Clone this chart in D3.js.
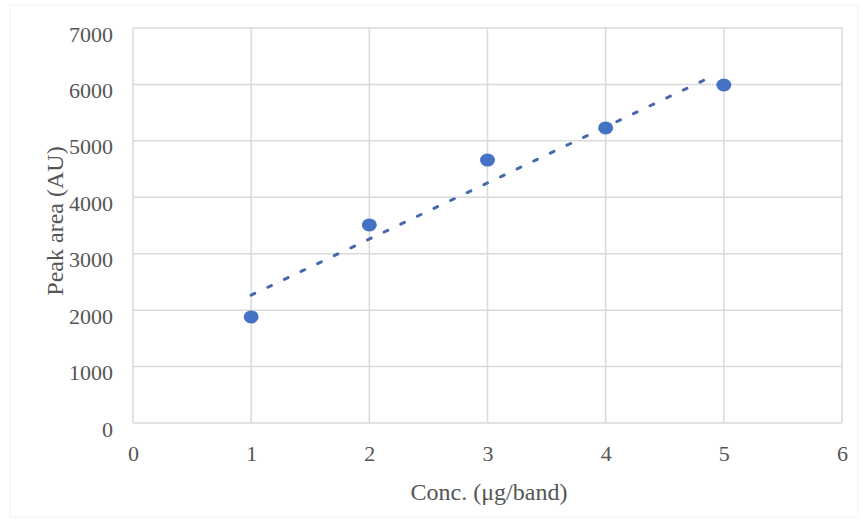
<!DOCTYPE html>
<html><head><meta charset="utf-8">
<script src="https://cdn.jsdelivr.net/npm/d3@7/dist/d3.min.js"></script>
<style>body{margin:0;background:#fff}svg{display:block}</style>
</head><body>
<svg id="c" width="863" height="522"></svg>
<script>
const concentrations = [1, 2, 3, 4, 5];
const peakAreas = [1880, 3510, 4660, 5230, 5990];
const xTicks = [0, 1, 2, 3, 4, 5, 6];
const yTicks = [0, 1000, 2000, 3000, 4000, 5000, 6000, 7000];
const xTitle = "Conc. (μg/band)";
const yTitle = "Peak area (AU)";

const svg = d3.select("#c");
const m = {l: 133, r: 842, t: 28, b: 423};
const x = d3.scaleLinear().domain([0, 6]).range([m.l, m.r]);
const y = d3.scaleLinear().domain([0, 7000]).range([m.b, m.t]);
const font = "'Liberation Serif','Times New Roman',serif";
const txt = "#555555";

svg.append("rect").attr("x", 10).attr("y", 5).attr("width", 848).attr("height", 512)
  .attr("fill", "none").attr("stroke", "#f2f2f2").attr("stroke-width", 1);

// grid
svg.append("g").selectAll("line").data(yTicks).join("line")
  .attr("x1", m.l).attr("x2", m.r).attr("y1", d => y(d)).attr("y2", d => y(d))
  .attr("stroke", "#d9d9d9").attr("stroke-width", 1.5);
svg.append("g").selectAll("line").data(xTicks).join("line")
  .attr("y1", m.t).attr("y2", m.b).attr("x1", d => x(d)).attr("x2", d => x(d))
  .attr("stroke", "#d9d9d9").attr("stroke-width", 1.5);

// axes labels
const yAxis = d3.axisLeft(y).tickValues(yTicks).tickSize(0).tickPadding(20).tickFormat(d3.format("d"));
const gy = svg.append("g").attr("transform", `translate(${m.l},6)`).call(yAxis);
gy.select(".domain").remove();
gy.selectAll("text").attr("font-family", font).attr("font-size", 22).attr("fill", txt);

const xAxis = d3.axisBottom(x).tickValues(xTicks).tickSize(0).tickPadding(22).tickFormat(d3.format("d"));
const gx = svg.append("g").attr("transform", `translate(0,${m.b})`).call(xAxis);
gx.select(".domain").remove();
gx.selectAll("text").attr("font-family", font).attr("font-size", 22).attr("fill", txt);

svg.append("text").attr("x", 489).attr("y", 500).attr("text-anchor", "middle")
  .attr("font-family", font).attr("font-size", 24).attr("fill", txt).text(xTitle);
svg.append("text").attr("transform", `translate(63,221) rotate(-90)`).attr("text-anchor", "middle")
  .attr("font-family", font).attr("font-size", 24).attr("fill", txt).text(yTitle);

// linear trendline
const n = concentrations.length;
const mx = d3.mean(concentrations), my = d3.mean(peakAreas);
let sxy = 0, sxx = 0;
for (let i = 0; i < n; i++) { sxy += (concentrations[i] - mx) * (peakAreas[i] - my); sxx += (concentrations[i] - mx) ** 2; }
const slope = sxy / sxx, icpt = my - slope * mx;
const trendX = [1, 4.9];
svg.append("path").attr("d", d3.line().x(d => x(d)).y(d => y(slope * d + icpt))(trendX))
  .attr("fill", "none").attr("stroke", "#4668ac").attr("stroke-width", 3)
  .attr("stroke-dasharray", "4 14.4").attr("stroke-linecap", "round");

// points
svg.append("g").selectAll("ellipse").data(concentrations).join("ellipse")
  .attr("cx", d => x(d)).attr("cy", (d, i) => y(peakAreas[i]))
  .attr("rx", 7.5).attr("ry", 6.5).attr("fill", "#4472c4");
</script>
</body></html>
